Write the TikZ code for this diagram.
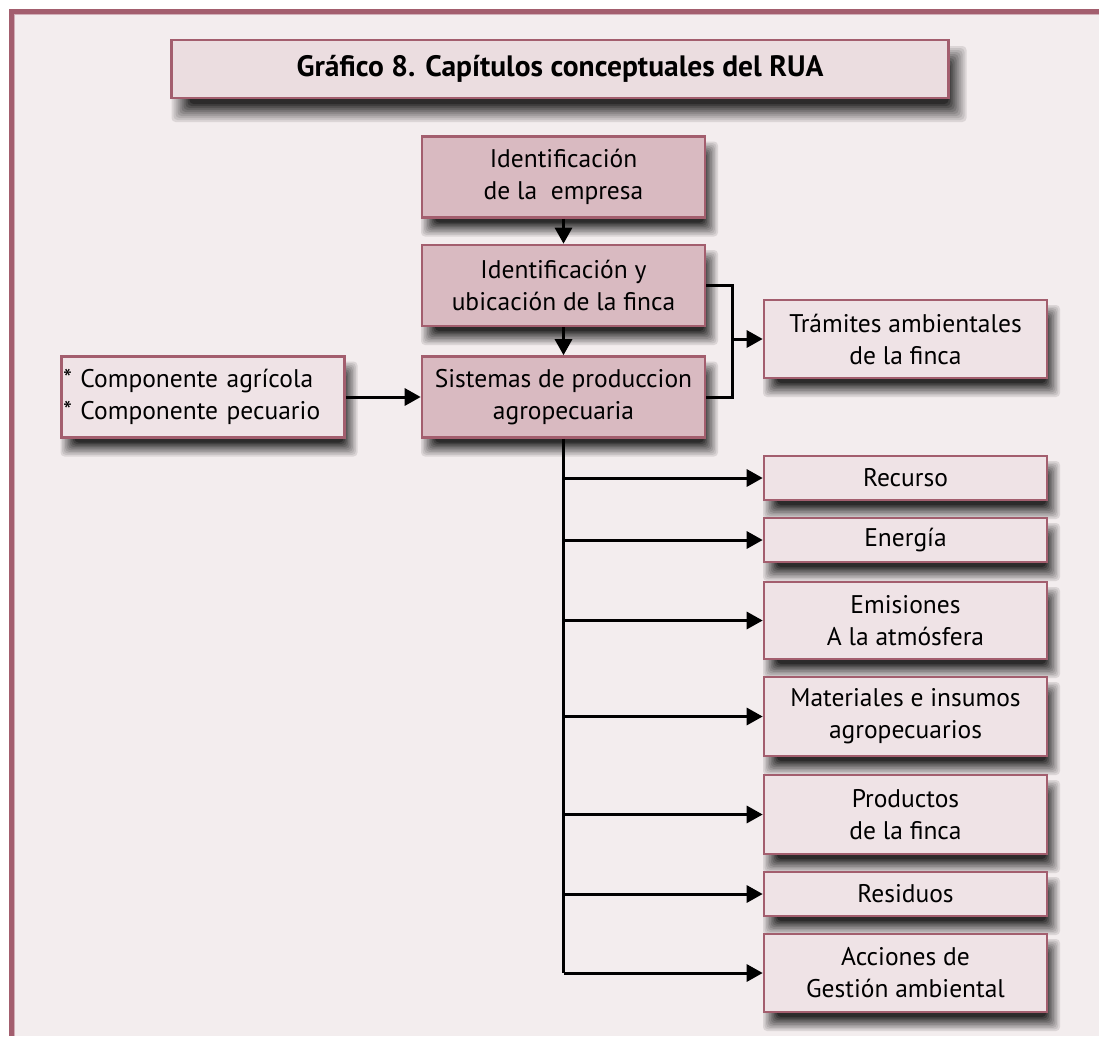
\documentclass[tikz,border=0pt]{standalone}
\usepackage{fontspec}
\setmainfont{PT Sans}
\usetikzlibrary{arrows.meta}
\definecolor{bgc}{HTML}{F3EDEE}
\definecolor{brd}{HTML}{A35E6E}
\definecolor{darkfill}{HTML}{D9BAC1}
\definecolor{lightfill}{HTML}{EFE3E6}
\definecolor{titlefill}{HTML}{EBDDE0}
\tikzset{
  boxbase/.style={draw=brd, line width=2.6pt, align=center, inner sep=0pt,
    font=\fontsize{25.5}{32}\selectfont, text=black},
  darkbox/.style={boxbase, fill=darkfill, minimum width=283pt, minimum height=81pt},
  lightbox/.style={boxbase, fill=lightfill, minimum width=283pt},
  titlebox/.style={draw=brd, line width=2.6pt, fill=titlefill, minimum width=777pt, minimum height=58pt,
    font=\fontsize{29.5}{32}\selectfont\bfseries},
  arr/.style={line width=3pt, -{Triangle[length=16pt,width=17pt]}},
  ln/.style={line width=3pt},
  shadestep/.style={rounded corners=4pt}
}
\newcommand\shbox[7]{%
  \foreach \k in {0,...,9}{%
    \pgfmathsetmacro\ee{#7-\k*#7/4.5}%
    \pgfmathtruncatemacro\pc{10+\k*8}%
    \fill[shadestep, fill=black!\pc!bgc] ({#1-#3/2+#5-\ee},{#2-#4/2+#6-\ee}) rectangle ({#1+#3/2+#5+\ee},{#2+#4/2+#6+\ee});
  }}
\begin{document}
\begin{tikzpicture}[x=1pt,y=-1pt]
\useasboundingbox (0,0) rectangle (1099,1036);
\fill[white] (0,0) rectangle (1099,1036);
\fill[brd] (9,9) rectangle (1099,1036);
\fill[bgc] (14,14) rectangle (1099,1036);
\draw[brd!50, line width=0.8pt] (14.4,1036) -- (14.4,14.4) -- (1099,14.4);

% drop shadows (drawn first, covered by the boxes)
\shbox{560}{69}{777}{58}{9}{15}{9}
\foreach \cx/\cy/\w/\h in {563.5/177/283/81, 563.5/285.5/283/81, 563.5/397/283/81,
  203/397/283/81, 905.5/339/283/78, 905.5/478/283/44, 905.5/540/283/44,
  905.5/620.5/283/77, 905.5/716.5/283/79, 905.5/814.5/283/79, 905.5/894/283/44,
  905.5/973/283/78}{\shbox{\cx}{\cy}{\w}{\h}{6}{12}{7}}

\node[titlebox] (title) at (560,69) {Gráfico 8. Capítulos conceptuales del RUA};

\node[darkbox] (A) at (563.5,177) {Identificación\\de la\ \ empresa};
\node[darkbox] (B) at (563.5,285.5) {Identificación y\\ubicación de la finca};
\node[darkbox] (C) at (563.5,397) {Sistemas de produccion\\agropecuaria};
\node[lightbox, minimum height=81pt, align=left, text width=280pt] (L) at (203,397) {* Componente agrícola\\{}* Componente pecuario};
\node[lightbox, minimum height=78pt] (T) at (905.5,339) {Trámites ambientales\\de la finca};

\node[lightbox, minimum height=44pt] (rec) at (905.5,478) {Recurso};
\node[lightbox, minimum height=44pt] (ene) at (905.5,540) {Energía};
\node[lightbox, minimum height=77pt] (emi) at (905.5,620.5) {Emisiones\\A la atmósfera};
\node[lightbox, minimum height=79pt] (mat) at (905.5,716.5) {Materiales e insumos\\agropecuarios};
\node[lightbox, minimum height=79pt] (pro) at (905.5,814.5) {Productos\\de la finca};
\node[lightbox, minimum height=44pt] (res) at (905.5,894) {Residuos};
\node[lightbox, minimum height=78pt] (acc) at (905.5,973) {Acciones de\\Gestión ambiental};

\draw[arr] (A) -- (B);
\draw[arr] (B) -- (C);
\draw[arr] (L) -- (C);

\coordinate (j) at (732,339);
\draw[ln] (B.east) -| (j) |- (C.east);
\draw[arr] (j) -- (T.west);

\draw[ln] (C.south) -- (C.south |- acc.west);
\foreach \n in {rec,ene,emi,mat,pro,res,acc}{
  \draw[arr] (C.south |- \n.west) -- (\n.west);
}
\end{tikzpicture}
\end{document}
